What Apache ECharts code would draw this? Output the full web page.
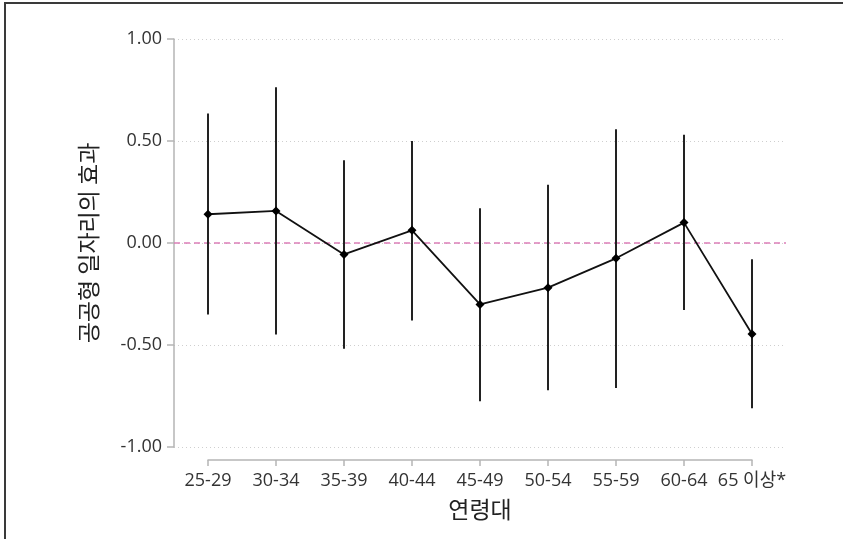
<!DOCTYPE html>
<html>
<head>
<meta charset="utf-8">
<script src="https://cdn.jsdelivr.net/npm/echarts@6/dist/echarts.min.js"></script>
<style>
  html, body { margin: 0; padding: 0; background: #fff; }
  #chart { width: 843px; height: 539px; }
</style>
</head>
<body>
<div id="chart"></div>
<script>
// 연령대별 공공형 일자리 효과 (점추정치 + 신뢰구간)
const ageGroups = ['25-29', '30-34', '35-39', '40-44', '45-49', '50-54', '55-59', '60-64', '65 이상*'];
const estimates = [0.141, 0.157, -0.056, 0.062, -0.301, -0.219, -0.075, 0.100, -0.446];
const lowerCI = [-0.350, -0.449, -0.518, -0.380, -0.776, -0.722, -0.711, -0.329, -0.810];
const upperCI = [0.635, 0.763, 0.406, 0.500, 0.170, 0.285, 0.557, 0.531, -0.080];
const yTicks = [-1, -0.5, 0, 0.5, 1];

const FONT = '"Open Sans", "Noto Sans CJK KR", sans-serif';
const KFONT = '"Noto Sans CJK KR", sans-serif';
const chart = echarts.init(document.getElementById('chart'));

const ciData = ageGroups.map((g, i) => [i, lowerCI[i], upperCI[i]]);

const option = {
    backgroundColor: '#fff',
    animation: false,
    grid: [
        // 데이터 영역 (격자선 포함)
        { left: 174, right: 57, top: 39, bottom: 92 },
        // 아래쪽 x축만 그리는 영역 (첫 범주 ~ 마지막 범주)
        { left: 208, right: 91, top: 39, bottom: 92 }
    ],
    xAxis: [
        { type: 'category', gridIndex: 0, data: ageGroups, boundaryGap: true, show: false },
        {
            type: 'category', gridIndex: 1, data: ageGroups, boundaryGap: false,
            offset: 13, position: 'bottom',
            axisLine: { show: true, onZero: false, lineStyle: { color: '#b5b5b5', width: 1.5 } },
            axisTick: { show: true, length: 6, lineStyle: { color: '#b5b5b5', width: 1.5 } },
            axisLabel: { color: '#333', fontSize: 18, fontFamily: FONT, margin: 12, interval: 0 },
            splitLine: { show: false },
            name: '연령대', nameLocation: 'middle', nameGap: 38,
            nameTextStyle: { color: '#222', fontSize: 23, fontFamily: KFONT }
        }
    ],
    yAxis: [
        {
            type: 'value', gridIndex: 0, min: -1, max: 1, interval: 0.5,
            axisLine: { show: true, lineStyle: { color: '#b5b5b5', width: 1.5 } },
            axisTick: { show: true, length: 7, lineStyle: { color: '#b5b5b5', width: 1.5 } },
            axisLabel: {
                color: '#333', fontSize: 18, fontFamily: FONT, margin: 12,
                formatter: v => yTicks.includes(v) ? v.toFixed(2) : ''
            },
            splitLine: { show: true, lineStyle: { color: '#cfcfcf', type: [1, 3], width: 1 } },
            name: '공공형 일자리의 효과', nameLocation: 'middle', nameGap: 74, nameRotate: 90,
            nameTextStyle: { color: '#222', fontSize: 23, fontFamily: KFONT }
        },
        { type: 'value', gridIndex: 1, min: -1, max: 1, show: false }
    ],
    series: [
        {
            // 신뢰구간 세로선
            type: 'custom',
            xAxisIndex: 0, yAxisIndex: 0,
            data: ciData,
            renderItem: (params, api) => {
                const lo = api.coord([api.value(0), api.value(1)]);
                const hi = api.coord([api.value(0), api.value(2)]);
                return {
                    type: 'line',
                    shape: { x1: lo[0], y1: lo[1], x2: hi[0], y2: hi[1] },
                    style: { stroke: '#222', lineWidth: 2 }
                };
            },
            z: 3
        },
        {
            type: 'line',
            xAxisIndex: 0, yAxisIndex: 0,
            data: estimates,
            symbol: 'diamond', symbolSize: 9,
            itemStyle: { color: '#000' },
            lineStyle: { color: '#111', width: 1.8 },
            z: 4,
            markLine: {
                silent: true, symbol: 'none', label: { show: false },
                lineStyle: { color: '#db7fb8', type: [6, 4], width: 1.5, opacity: 1 },
                data: [{ yAxis: 0 }],
                z: 2
            }
        }
    ],
    graphic: [
        { type: 'line', shape: { x1: 5, y1: 3, x2: 5, y2: 539 }, style: { stroke: '#3a3a3a', lineWidth: 2 } },
        { type: 'line', shape: { x1: 4, y1: 3, x2: 843, y2: 3 }, style: { stroke: '#3a3a3a', lineWidth: 2 } }
    ]
};

chart.setOption(option);
</script>
</body>
</html>
